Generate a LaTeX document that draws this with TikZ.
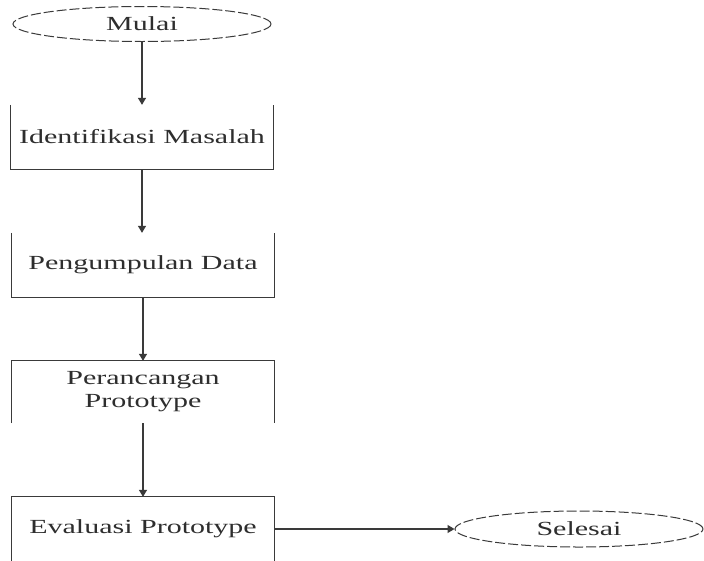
\documentclass[tikz,border=0pt]{standalone}
\usepackage{fontspec}
\newfontfamily\diafont[FakeStretch=1.5]{Liberation Serif}
\usetikzlibrary{arrows.meta,shapes.geometric}
\definecolor{linec}{HTML}{3A3A3A}
\definecolor{textc}{HTML}{2E2E2E}
\begin{document}
\begin{tikzpicture}[x=1pt,y=-1pt,
  every node/.style={font=\diafont\fontsize{20}{23}\selectfont, text=textc, inner sep=0pt},
  term/.style={ellipse, draw=linec, line width=1pt, dash pattern=on 10pt off 3pt},
  procbox/.style={rectangle, minimum width=262pt, minimum height=64pt, align=center},
  edge/.style={draw=linec, line width=1.3pt},
  arr/.style={edge, -{Triangle[width=8pt,length=7pt]}}]
\fill[white] (0,0) rectangle (704,560);
\useasboundingbox (0,0) rectangle (704,560);
\node[term, minimum width=258pt, minimum height=35pt] (mulai) at (142,24) {Mulai};
\node[procbox] (b1) at (142,137) {Identifikasi Masalah};
\node[procbox] (b2) at (143,265) {Pengumpulan Data};
\node[procbox, minimum height=62pt] (b3) at (143,392) {Perancangan\\Prototype};
\node[procbox] (b4) at (143,529) {Evaluasi Prototype};
\node[term, minimum width=248pt, minimum height=36pt] (selesai) at (579,529) {Selesai};
% partial box borders
\draw[edge] (b1.north west) -- (b1.south west) -- (b1.south east) -- (b1.north east);
\draw[edge] (b2.north west) -- (b2.south west) -- (b2.south east) -- (b2.north east);
\draw[edge] (b3.south west) -- (b3.north west) -- (b3.north east) -- (b3.south east);
\draw[edge] (b4.south west) -- (b4.north west) -- (b4.north east) -- (b4.south east);
% connectors
\draw[arr] (mulai.south) -- (mulai.south |- b1.north);
\draw[arr] (b1.south) -- (b1.south |- b2.north);
\draw[arr] (b2.south) -- (b3.north);
\draw[arr] (b3.south) -- (b4.north);
\draw[arr] (b4.east) -- (selesai.west);
\end{tikzpicture}
\end{document}
